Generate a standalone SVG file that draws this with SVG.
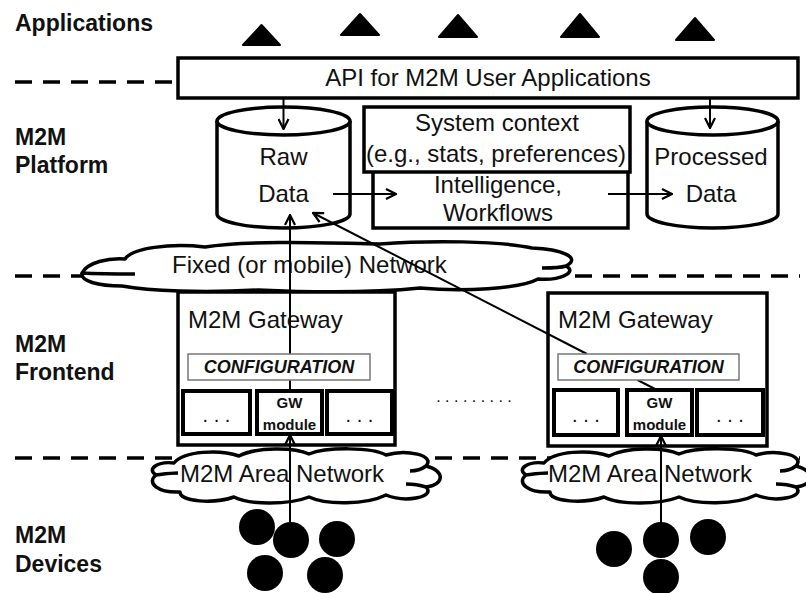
<svg xmlns="http://www.w3.org/2000/svg" width="806" height="593" viewBox="0 0 806 593">
<defs>
<style>
.lbl{font-family:"Liberation Sans",Arial,sans-serif;font-weight:bold;font-size:23px;fill:#111}
.t{font-family:"Liberation Sans",Arial,sans-serif;font-size:24px;fill:#111}
.tc{font-family:"Liberation Sans",Arial,sans-serif;font-size:24px;fill:#111;text-anchor:middle}
.cfg{font-family:"Liberation Sans",Arial,sans-serif;font-size:18px;font-weight:bold;font-style:italic;fill:#111;text-anchor:middle}
.gw{font-family:"Liberation Sans",Arial,sans-serif;font-size:15px;font-weight:bold;fill:#111;text-anchor:middle}
.dots{font-family:"Liberation Sans",Arial,sans-serif;font-size:20px;fill:#111;text-anchor:middle}
.dots2{font-family:"Liberation Sans",Arial,sans-serif;font-size:16px;fill:#111;text-anchor:middle}
.box{fill:#fff;stroke:#000;stroke-width:3.5}
.sub{fill:#fff;stroke:#000;stroke-width:4}
.cfgbox{fill:#fff;stroke:#777;stroke-width:1.5}
.cyl{fill:#fff;stroke:#000;stroke-width:3.5}
.cloud{fill:#fff;stroke:#000;stroke-width:3.5;stroke-linejoin:round}
.dash{stroke:#000;stroke-width:3.5;stroke-dasharray:17 11;fill:none}
.con{stroke:#000;stroke-width:2;fill:none}
.arr{marker-end:url(#ah)}
.tri{fill:#000;stroke:#000;stroke-width:2;stroke-linejoin:round}
.dev{fill:#000}
</style>
<marker id="ah" viewBox="0 0 12 12" refX="11" refY="6" markerWidth="12" markerHeight="12" markerUnits="userSpaceOnUse" orient="auto">
<path d="M1,1 L11,6 L1,11" fill="none" stroke="#000" stroke-width="2.2"/>
</marker>
<path id="acloud" d="M12,28 C2,22 14,14 30,16 C40,4 75,2 95,9 C112,0 150,0 165,7 C182,0 228,0 242,8 C262,2 292,8 282,19 C302,24 300,38 282,40 C292,50 262,56 242,48 C222,58 182,58 165,50 C145,58 105,58 90,50 C70,57 36,55 36,45 C14,46 2,36 12,28 Z M12,28 C20,27 26,26 34,26 M282,19 C278,22 272,24 266,24 M282,40 C276,38 270,37 262,37"/>
</defs>

<!-- dashed layer separators -->
<g id="separators">
<line class="dash" x1="15" y1="82" x2="178" y2="82"/>
<line class="dash" x1="15" y1="276" x2="800" y2="276"/>
<line class="dash" x1="15" y1="458" x2="800" y2="458"/>
</g>

<!-- layer labels -->
<g id="labels">
<text class="lbl" x="15" y="31">Applications</text>
<text class="lbl" x="15" y="145">M2M</text>
<text class="lbl" x="15" y="173">Platform</text>
<text class="lbl" x="15" y="352">M2M</text>
<text class="lbl" x="15" y="380">Frontend</text>
<text class="lbl" x="15" y="543">M2M</text>
<text class="lbl" x="15" y="572">Devices</text>
</g>

<!-- applications -->
<g id="apps">
<polygon class="tri" points="243,45 280,45 261.5,25"/>
<polygon class="tri" points="341,35 379,35 360,14"/>
<polygon class="tri" points="439,37 477,37 458,15"/>
<polygon class="tri" points="561,37 599,37 580,14"/>
<polygon class="tri" points="676,40 714,40 695,18"/>
</g>

<g id="api">
<rect class="box" x="178" y="58" width="620" height="40"/>
<text class="tc" x="488" y="86">API for M2M User Applications</text>
</g>

<g id="rawdata">
<path class="cyl" d="M217,121 L217,214 A66.5,14 0 0 0 350,214 L350,121"/>
<ellipse class="cyl" cx="283.5" cy="121" rx="66.5" ry="14"/>
<text class="tc" x="283.5" y="165">Raw</text>
<text class="tc" x="283.5" y="202">Data</text>
</g>

<g id="intelligence">
<rect class="box" x="373" y="150" width="255" height="78"/>
<text class="tc" x="498" y="193">Intelligence,</text>
<text class="tc" x="498" y="221">Workflows</text>
</g>

<g id="syscontext">
<rect class="box" x="364" y="107" width="266" height="65"/>
<text class="tc" x="497" y="131">System context</text>
<text class="tc" x="496" y="162">(e.g., stats, preferences)</text>
</g>

<g id="processed">
<path class="cyl" d="M647,121 L647,214 A65.5,14 0 0 0 778,214 L778,121"/>
<ellipse class="cyl" cx="712.5" cy="121" rx="65.5" ry="14"/>
<text class="tc" x="711" y="165">Processed</text>
<text class="tc" x="711" y="202">Data</text>
</g>

<g id="fixednet">
<path class="cloud" d="M82,273 C88,262 108,258 125,259 C132,248 170,243 205,247 C250,240 330,243 380,244 C430,240 500,241 532,248 C562,249 582,258 566,266 C578,272 560,281 538,279 C520,289 462,292 420,288 C362,294 302,292 258,290 C202,293 150,291 122,286 C98,286 80,281 82,273 Z M82,273 C100,274 118,274 135,274 M566,266 C560,268 552,268 542,268"/>
<text class="t" x="172" y="273">Fixed (or mobile) Network</text>
</g>

<g id="gateway1">
<rect class="box" x="178" y="292" width="217" height="153"/>
<text class="t" x="188" y="328">M2M Gateway</text>
<rect class="sub" x="183" y="391" width="67" height="43"/>
<text class="dots" x="216.5" y="422">. . .</text>
<rect class="sub" x="257" y="391" width="65" height="43"/>
<text class="gw" x="289.5" y="408">GW</text>
<text class="gw" x="289.5" y="430">module</text>
<rect class="sub" x="327" y="391" width="65" height="43"/>
<text class="dots" x="359.5" y="422">. . .</text>
</g>

<g id="gateway2">
<rect class="box" x="548" y="293" width="219" height="153"/>
<text class="t" x="558" y="328">M2M Gateway</text>
<rect class="sub" x="554" y="390" width="64" height="45"/>
<text class="dots" x="586" y="422">. . .</text>
<rect class="sub" x="627" y="390" width="65" height="45"/>
<text class="gw" x="659.5" y="408">GW</text>
<text class="gw" x="659.5" y="430">module</text>
<rect class="sub" x="697" y="390" width="66" height="45"/>
<text class="dots" x="730" y="422">. . .</text>
</g>

<g id="ellipsis">
<text class="dots2" x="474" y="402">. . . . . . . . .</text>
</g>

<g id="areanet1">
<use href="#acloud" class="cloud" x="144" y="447"/>
<text class="t" x="180" y="482">M2M Area Network</text>
</g>

<g id="areanet2">
<use href="#acloud" class="cloud" x="514" y="447"/>
<text class="t" x="548" y="482">M2M Area Network</text>
</g>

<g id="devices1">
<circle class="dev" cx="257" cy="527" r="18"/>
<circle class="dev" cx="291" cy="540" r="18"/>
<circle class="dev" cx="337" cy="539" r="18"/>
<circle class="dev" cx="265" cy="573" r="18"/>
<circle class="dev" cx="325" cy="575" r="18"/>
</g>

<g id="devices2">
<circle class="dev" cx="614" cy="549" r="18"/>
<circle class="dev" cx="661" cy="540" r="18"/>
<circle class="dev" cx="708" cy="537" r="18"/>
<circle class="dev" cx="661" cy="577" r="18"/>
</g>

<g id="connectors">
<line class="con arr" x1="283.5" y1="98" x2="283.5" y2="129"/>
<line class="con arr" x1="710" y1="98" x2="710" y2="128"/>
<line class="con arr" x1="333" y1="194" x2="396" y2="194"/>
<line class="con arr" x1="608" y1="194" x2="672" y2="194"/>
<line class="con arr" x1="290" y1="523" x2="290" y2="435"/>
<line class="con arr" x1="661" y1="523" x2="661" y2="436"/>
<line class="con" x1="290" y1="391" x2="290" y2="380"/>
<line class="con arr" x1="290" y1="354" x2="290" y2="215"/>
<line class="con" x1="657" y1="390" x2="637.5" y2="380"/>
<line class="con arr" x1="587" y1="354" x2="313" y2="213"/>
</g>

<g id="config1">
<rect class="cfgbox" x="188" y="354" width="182" height="26"/>
<text class="cfg" x="279" y="373">CONFIGURATION</text>
</g>

<g id="config2">
<rect class="cfgbox" x="558" y="354" width="181" height="26"/>
<text class="cfg" x="648.5" y="373">CONFIGURATION</text>
</g>
</svg>
